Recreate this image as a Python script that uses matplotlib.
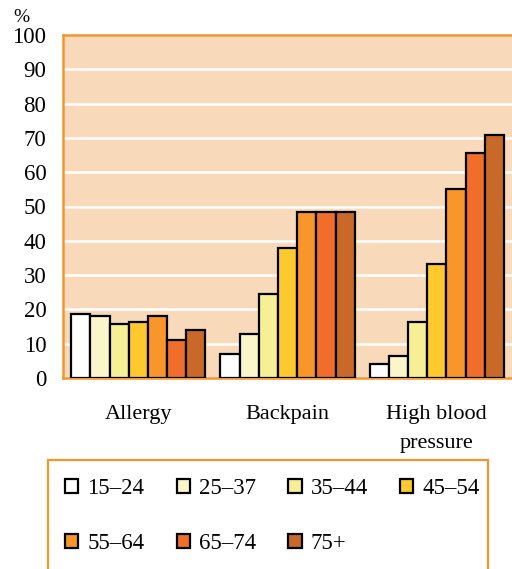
import matplotlib
matplotlib.use("Agg")
import matplotlib.pyplot as plt
import numpy as np
from matplotlib.patches import Rectangle

categories = ["Allergy", "Backpain", "High blood\npressure"]
age_groups = ["15–24", "25–37", "35–44", "45–54", "55–64", "65–74", "75+"]
values = {
    "15–24": [18.7, 7.1, 4.2],
    "25–37": [18.2, 12.9, 6.5],
    "35–44": [15.7, 24.5, 16.3],
    "45–54": [16.3, 38.0, 33.3],
    "55–64": [18.2, 48.4, 55.1],
    "65–74": [11.1, 48.4, 65.6],
    "75+":   [14.1, 48.4, 70.8],
}
colors = ["#FFFFFF", "#FAF6C9", "#F6EF96", "#FDC92E", "#F8962B", "#F06D2B", "#C8692A"]
yticks = [0, 10, 20, 30, 40, 50, 60, 70, 80, 90, 100]

plt.rcParams["font.family"] = ["Liberation Serif", "DejaVu Serif"]

W, H = 512, 569
fig = plt.figure(figsize=(W / 100, H / 100), dpi=100)
ax = fig.add_axes([63 / W, (H - 378) / H, (525 - 63) / W, 343 / H])

bg = "#F8D9B9"
orange = "#F4962E"
ax.set_facecolor(bg)

x = np.arange(len(categories))
n = len(age_groups)
bw = 0.9 / n
handles = []
for i, (g, c) in enumerate(zip(age_groups, colors)):
    offs = (i - (n - 1) / 2) * bw
    b = ax.bar(x + offs, values[g], width=bw, color=c, edgecolor="black",
               linewidth=1.6, label=g, zorder=3)
    handles.append(b)

ax.set_xlim(-0.505, -0.505 + (525 - 63) / 149.2)
ax.set_ylim(0, 100)
ax.set_yticks(yticks)
ax.set_yticklabels([str(t) for t in yticks], fontsize=16.5)
ax.set_xticks(x)
ax.set_xticklabels(categories, fontsize=16, linespacing=1.72, va="top")
ax.tick_params(axis="both", length=0)
ax.tick_params(axis="y", pad=12)
ax.tick_params(axis="x", pad=19.5)
for t in yticks[1:-1]:
    ax.axhline(t, color="white", linewidth=1.8, zorder=1)

for s in ["left", "bottom", "top"]:
    ax.spines[s].set_color(orange)
    ax.spines[s].set_linewidth(1.8)
ax.spines["right"].set_visible(False)

fig.text(13 / W, 1 - 17 / H, "%", fontsize=14, ha="left", va="center")

# legend frame running off the bottom of the figure
fig.patches.append(Rectangle((47.5 / W, -0.05), (488 - 47.5) / W, 0.05 + (H - 460) / H,
                             transform=fig.transFigure, fill=False,
                             edgecolor=orange, linewidth=1.6))

# four columns, filled row by row
ncol = 4
nrow = int(np.ceil(n / ncol))
order = [r * ncol + c for c in range(ncol) for r in range(nrow) if r * ncol + c < n]
leg = fig.legend(handles=[handles[k] for k in order],
                 labels=[age_groups[k] for k in order], ncol=ncol,
                 loc="upper left", bbox_to_anchor=(65 / W, 1 - 478 / H),
                 frameon=False, fontsize=16.5, handlelength=0.58, handleheight=0.58,
                 handletextpad=0.4, columnspacing=1.4, labelspacing=1.5,
                 borderpad=0, borderaxespad=0)

fig.savefig("out.png", dpi=100)
